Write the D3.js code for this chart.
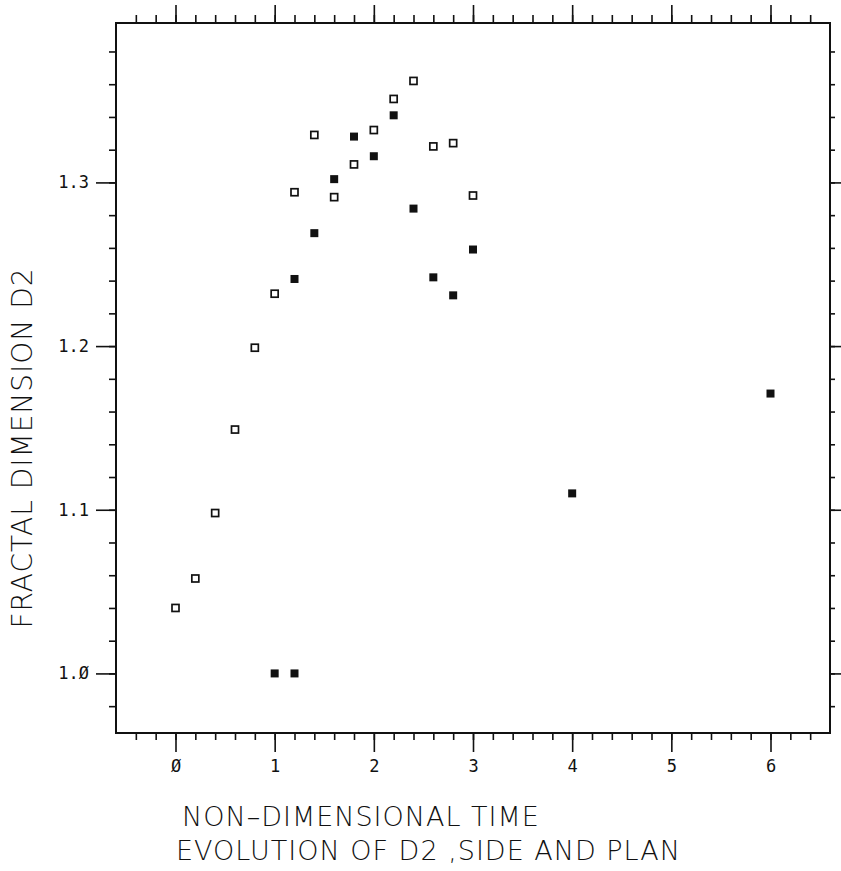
<!DOCTYPE html>
<html lang="en">
<head>
<meta charset="utf-8"/>
<title>Evolution of D2, side and plan</title>
<script src="https://d3js.org/d3.v7.min.js"></script>
<style>
  body { margin: 0; background: #fff; }
  .tick-label { font-family: "DejaVu Sans Mono", monospace; font-size: 17px; fill: #111; }
  .title { font-family: "DejaVu Sans", sans-serif; font-weight: 200; font-size: 27px; fill: #111; letter-spacing: 1px; }
</style>
</head>
<body>
<svg id="chart" width="841" height="871"></svg>
<script>
// data
var sideTime = [0, 0.2, 0.4, 0.6, 0.8, 1.0, 1.2, 1.4, 1.6, 1.8, 2.0, 2.2, 2.4, 2.6, 2.8, 3.0];
var sideD2   = [1.04, 1.058, 1.098, 1.149, 1.199, 1.232, 1.294, 1.329, 1.291, 1.311, 1.332, 1.351, 1.362, 1.322, 1.324, 1.292];

var planTime = [1.0, 1.2, 1.2, 1.4, 1.6, 1.8, 2.0, 2.2, 2.4, 2.6, 2.8, 3.0, 4.0, 6.0];
var planD2   = [1.0, 1.0, 1.241, 1.269, 1.302, 1.328, 1.316, 1.341, 1.284, 1.242, 1.231, 1.259, 1.110, 1.171];

var xTicks = [0, 1, 2, 3, 4, 5, 6];
var yTicks = [1.0, 1.1, 1.2, 1.3];

var svg = d3.select("#chart");
var box = {left: 116, right: 830, top: 23, bottom: 733};

var x = d3.scaleLinear().domain([-0.6, 6.6]).range([box.left, box.right]);
var y = d3.scaleLinear().domain([0.9636, 1.3974]).range([box.bottom, box.top]);

// minor ticks every 0.2 / 0.02
var xMinor = d3.range(-0.4, 6.6, 0.2).map(function(v) { return Math.round(v * 10) / 10; });
var yMinor = d3.range(0.98, 1.40, 0.02).map(function(v) { return Math.round(v * 100) / 100; });

function fmt(v) { return v.toFixed(1).replace(/0/g, "\u00d8"); }

function noDomain(g) { g.select(".domain").remove(); }

// bottom axis
svg.append("g")
  .attr("transform", "translate(0," + box.bottom + ")")
  .call(d3.axisBottom(x).tickValues(xMinor).tickSize(7).tickFormat(""))
  .call(noDomain);
svg.append("g")
  .attr("transform", "translate(0," + box.bottom + ")")
  .call(d3.axisBottom(x).tickValues(xTicks).tickSize(19).tickPadding(8)
    .tickFormat(function(d) { return d === 0 ? "\u00d8" : d; }))
  .call(noDomain)
  .selectAll("text").attr("class", "tick-label");

// top axis
svg.append("g")
  .attr("transform", "translate(0," + box.top + ")")
  .call(d3.axisTop(x).tickValues(xMinor).tickSize(8).tickFormat(""))
  .call(noDomain);
svg.append("g")
  .attr("transform", "translate(0," + box.top + ")")
  .call(d3.axisTop(x).tickValues(xTicks).tickSize(18).tickFormat(""))
  .call(noDomain);

// left axis
svg.append("g")
  .attr("transform", "translate(" + box.left + ",0)")
  .call(d3.axisLeft(y).tickValues(yMinor).tickSize(7).tickFormat(""))
  .call(noDomain);
svg.append("g")
  .attr("transform", "translate(" + box.left + ",0)")
  .call(d3.axisLeft(y).tickValues(yTicks).tickSize(20).tickPadding(7).tickFormat(fmt))
  .call(noDomain)
  .selectAll("text").attr("class", "tick-label");

// right axis
svg.append("g")
  .attr("transform", "translate(" + box.right + ",0)")
  .call(d3.axisRight(y).tickValues(yMinor).tickSize(5).tickFormat(""))
  .call(noDomain);
svg.append("g")
  .attr("transform", "translate(" + box.right + ",0)")
  .call(d3.axisRight(y).tickValues(yTicks).tickSize(11).tickFormat(""))
  .call(noDomain);

svg.selectAll(".tick line").attr("stroke", "#111").attr("stroke-width", 1.6);
svg.selectAll("g").attr("font-family", null).attr("font-size", null);

// frame
svg.append("rect")
  .attr("x", box.left).attr("y", box.top)
  .attr("width", box.right - box.left).attr("height", box.bottom - box.top)
  .attr("fill", "none").attr("stroke", "#111").attr("stroke-width", 2);

// side (open squares)
svg.append("g").selectAll("rect")
  .data(sideTime)
  .enter().append("rect")
    .attr("x", function(d) { return x(d) - 3.5; })
    .attr("y", function(d, i) { return y(sideD2[i]) - 3.5; })
    .attr("width", 7).attr("height", 7)
    .attr("fill", "none").attr("stroke", "#111").attr("stroke-width", 1.7);

// plan (filled squares)
svg.append("g").selectAll("rect")
  .data(planTime)
  .enter().append("rect")
    .attr("x", function(d) { return x(d) - 4; })
    .attr("y", function(d, i) { return y(planD2[i]) - 4; })
    .attr("width", 8).attr("height", 8)
    .attr("fill", "#111");

// titles
svg.append("text").attr("class", "title")
  .attr("transform", "translate(32,448) rotate(-90)")
  .attr("text-anchor", "middle")
  .style("font-size", "28px")
  .text("FRACTAL DIMENSION D2");

svg.append("text").attr("class", "title")
  .attr("x", 182).attr("y", 826)
  .text("NON\u2013DIMENSIONAL TIME");

svg.append("text").attr("class", "title")
  .attr("x", 176).attr("y", 860)
  .text("EVOLUTION OF D2 ,SIDE AND PLAN");
</script>
</body>
</html>
